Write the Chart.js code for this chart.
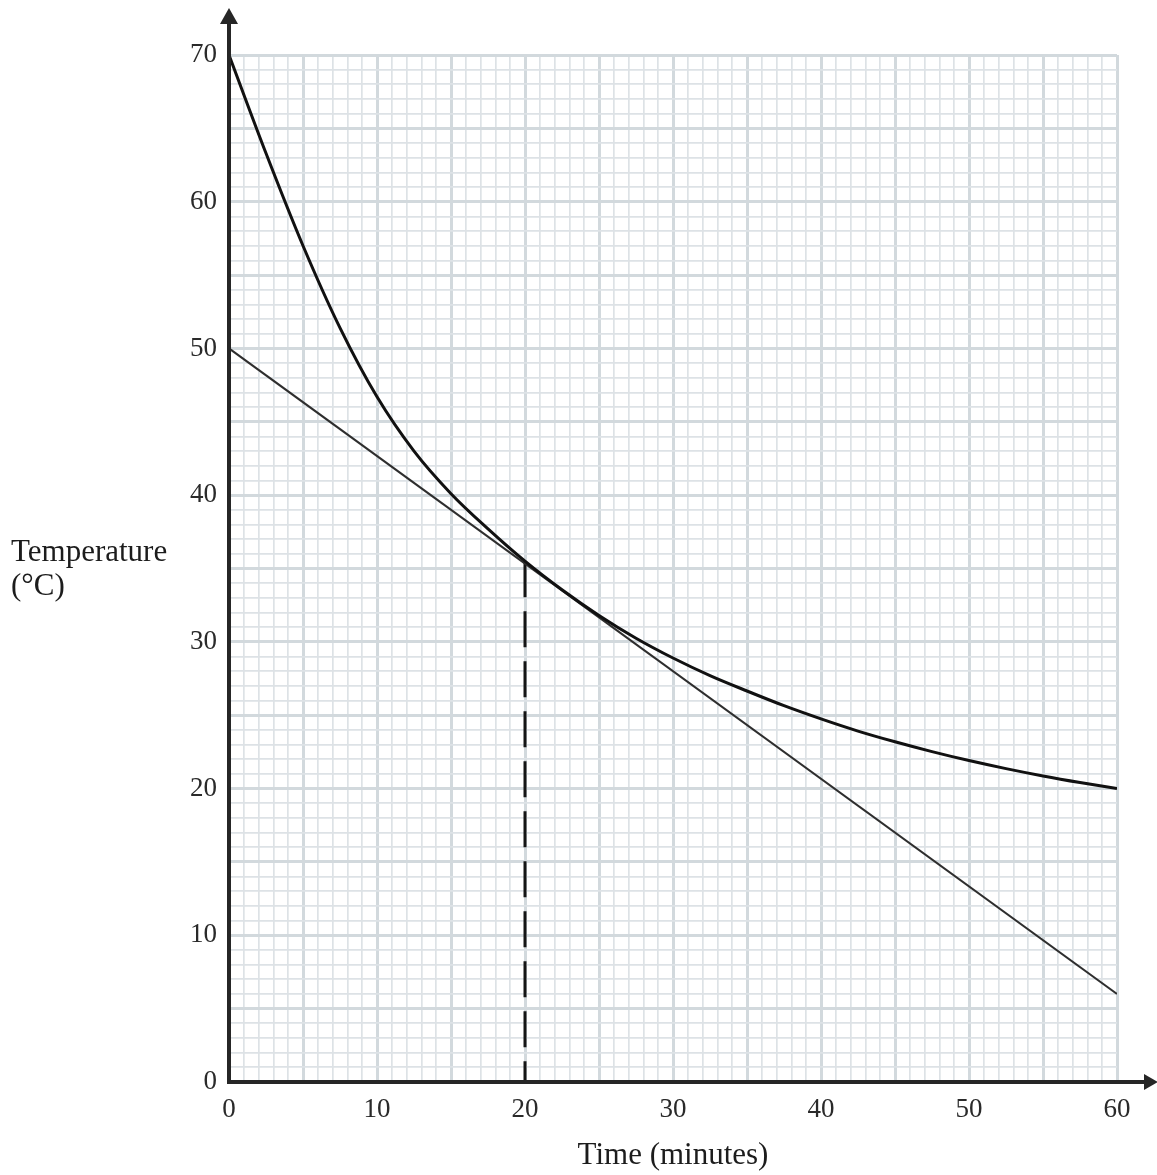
<!DOCTYPE html>
<html>
<head>
<meta charset="utf-8">
<script src="https://cdn.jsdelivr.net/npm/chart.js@4.4.1/dist/chart.umd.min.js"></script>
<style>
  html, body { margin: 0; padding: 0; background: #ffffff; }
  #wrap { width: 1157px; height: 1175px; position: relative; }
</style>
</head>
<body>
<div id="wrap"><canvas id="c" width="1157" height="1175"></canvas></div>
<script>
// ---- data ----
const timeMinutes = [0, 2.5, 5, 7.5, 10, 12.5, 15, 17.5, 20, 22.5, 25, 27.5, 30, 32.5, 35, 37.5, 40, 42.5, 45, 47.5, 50, 52.5, 55, 57.5, 60];
const curveTemps  = [70, 63.3, 57.0, 51.4, 46.7, 43.0, 40.1, 37.7, 35.5, 33.55, 31.8, 30.25, 28.9, 27.7, 26.65, 25.65, 24.75, 23.92, 23.19, 22.52, 21.91, 21.36, 20.86, 20.41, 20.0];
const tangentTimes = [0, 60];
const tangentTemps = [50, 6];
const dropTimes = [20, 20];
const dropTemps = [35.5, 0];
const xTickLabels = [0, 10, 20, 30, 40, 50, 60];
const yTickLabels = [0, 10, 20, 30, 40, 50, 60, 70];
const xTitle = 'Time (minutes)';
const yTitleLines = ['Temperature', '(°C)'];

const toPts = (xs, ys) => xs.map((x, i) => ({ x: x, y: ys[i] }));
const SERIF = '"Liberation Serif", "Times New Roman", serif';

const axesPlugin = {
  id: 'axesPlugin',
  afterDatasetsDraw(chart) {
    const { ctx, scales: { x, y } } = chart;
    const x0 = x.getPixelForValue(0);
    const y0 = y.getPixelForValue(0);
    const yTop = y.getPixelForValue(70);
    const xEnd = x.getPixelForValue(60);
    ctx.save();
    ctx.strokeStyle = '#262626';
    ctx.fillStyle = '#262626';
    ctx.lineWidth = 4;
    ctx.lineCap = 'butt';
    // y axis
    ctx.beginPath();
    ctx.moveTo(x0, y0 + 2);
    ctx.lineTo(x0, yTop - 32);
    ctx.stroke();
    // x axis
    ctx.beginPath();
    ctx.moveTo(x0 - 2, y0);
    ctx.lineTo(xEnd + 30, y0);
    ctx.stroke();
    // arrow heads
    ctx.beginPath();
    ctx.moveTo(x0, yTop - 47);
    ctx.lineTo(x0 - 9, yTop - 31);
    ctx.lineTo(x0 + 9, yTop - 31);
    ctx.closePath();
    ctx.fill();
    ctx.beginPath();
    ctx.moveTo(xEnd + 41, y0);
    ctx.lineTo(xEnd + 27, y0 - 8);
    ctx.lineTo(xEnd + 27, y0 + 8);
    ctx.closePath();
    ctx.fill();
    // y title (horizontal, at left)
    ctx.fillStyle = '#1c1c1c';
    ctx.font = '31px ' + SERIF;
    ctx.textAlign = 'left';
    ctx.textBaseline = 'alphabetic';
    const yMid = y.getPixelForValue(36);
    ctx.fillText(yTitleLines[0], 11, yMid + 7);
    ctx.fillText(yTitleLines[1], 11, yMid + 41);
    ctx.restore();
  }
};

new Chart(document.getElementById('c'), {
  type: 'scatter',
  data: {
    datasets: [
      {
        label: 'cooling curve',
        data: toPts(timeMinutes, curveTemps),
        showLine: true,
        borderColor: '#111111',
        borderWidth: 3,
        pointRadius: 0,
        cubicInterpolationMode: 'monotone',
        fill: false
      },
      {
        label: 'tangent',
        data: toPts(tangentTimes, tangentTemps),
        showLine: true,
        borderColor: '#2e2e2e',
        borderWidth: 2,
        pointRadius: 0,
        fill: false
      },
      {
        label: 'drop',
        data: toPts(dropTimes, dropTemps),
        showLine: true,
        borderColor: '#151515',
        borderWidth: 3,
        borderDash: [36, 14],
        pointRadius: 0,
        fill: false
      }
    ]
  },
  options: {
    responsive: false,
    animation: false,
    events: [],
    layout: { padding: { top: 55, right: 40, left: 0, bottom: 0 } },
    plugins: {
      legend: { display: false },
      tooltip: { enabled: false },
      title: { display: false }
    },
    scales: {
      x: {
        type: 'linear',
        min: 0, max: 60,
        afterFit(scale) { scale.height = 93; },
        border: { display: false },
        grid: {
          drawTicks: false,
          color: c => (c.tick && c.tick.value % 5 === 0) ? '#d2d9dd' : '#dde2e6',
          lineWidth: c => (c.tick && c.tick.value % 5 === 0) ? 3 : 1.7
        },
        ticks: {
          stepSize: 1,
          autoSkip: false,
          maxRotation: 0,
          padding: 12,
          color: '#2a2a2a',
          font: { family: SERIF, size: 27 },
          callback: v => xTickLabels.includes(v) ? String(v) : ''
        },
        title: {
          display: true,
          text: xTitle,
          color: '#1c1c1c',
          font: { family: SERIF, size: 31 },
          padding: { top: 0, bottom: 1 }
        }
      },
      y: {
        type: 'linear',
        min: 0, max: 70,
        afterFit(scale) { scale.width = 229; },
        border: { display: false },
        grid: {
          drawTicks: false,
          color: c => (c.tick && c.tick.value % 5 === 0) ? '#d2d9dd' : '#dde2e6',
          lineWidth: c => (c.tick && c.tick.value % 5 === 0) ? 3 : 1.7
        },
        ticks: {
          stepSize: 1,
          autoSkip: false,
          padding: 12,
          color: '#2a2a2a',
          font: { family: SERIF, size: 27 },
          callback: v => yTickLabels.includes(v) ? String(v) : ''
        }
      }
    }
  },
  plugins: [axesPlugin]
});
</script>
</body>
</html>
